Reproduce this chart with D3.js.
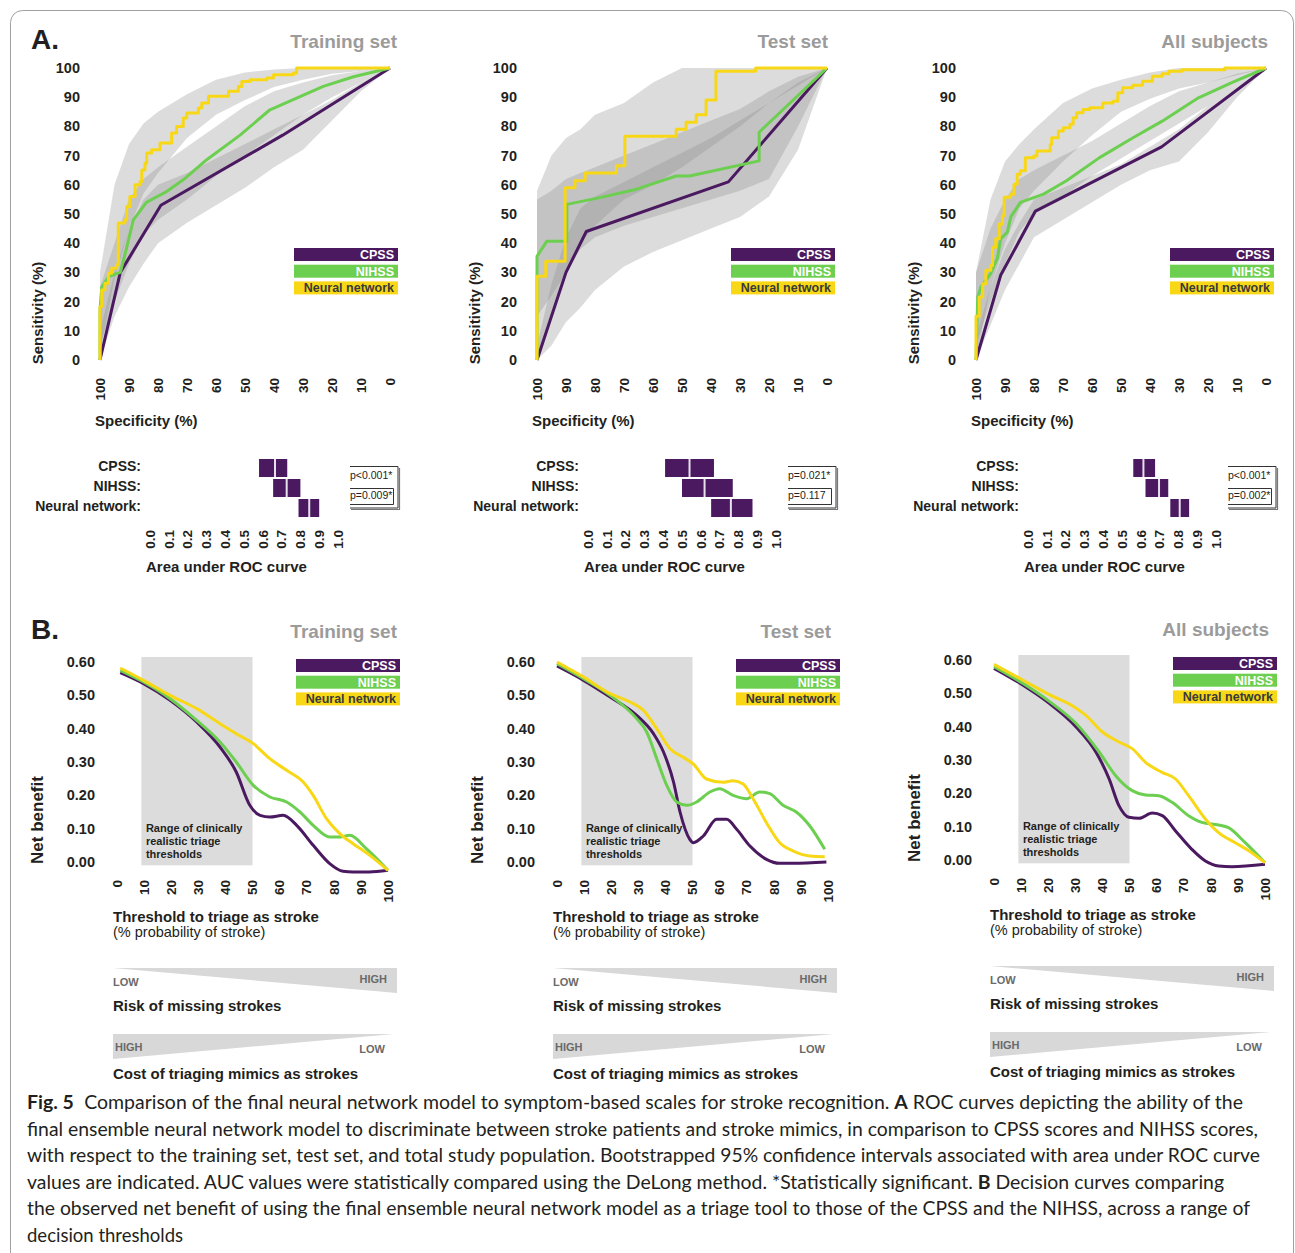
<!DOCTYPE html>
<html>
<head>
<meta charset="utf-8">
<script src="https://cdn.jsdelivr.net/npm/d3@7"></script>
<style>
  body { margin: 0; background: #fff; }
  svg text { font-family: "Liberation Sans", Arial, sans-serif; }
</style>
</head>
<body>
<svg id="fig" width="1295" height="1253"></svg>
<script>
// ---- data ----
var modelNames = ["CPSS", "NIHSS", "Neural network"];
var modelColors = ["#4a1960", "#6ccf50", "#f8d816"];
var legendText = ["#ffffff", "#ffffff", "#3a3a3a"];
var panelTitles = ["Training set", "Test set", "All subjects"];

var specTicks = [100, 90, 80, 70, 60, 50, 40, 30, 20, 10, 0];
var sensTicks = [0, 10, 20, 30, 40, 50, 60, 70, 80, 90, 100];
var aucTicks = [0.0, 0.1, 0.2, 0.3, 0.4, 0.5, 0.6, 0.7, 0.8, 0.9, 1.0];
var thresholdTicks = [0, 10, 20, 30, 40, 50, 60, 70, 80, 90, 100];
var benefitTicks = [0, 0.1, 0.2, 0.3, 0.4, 0.5, 0.6];

// ROC curves: [specificity, sensitivity]
var trainCpss = [[100, 0], [93, 30], [79, 53], [37, 77], [0, 100]];
var trainNihss = [[100, 0], [100, 17], [99.4, 25], [97, 28.6], [93, 30], [91, 37.7], [88.5, 48], [84, 54], [77, 57.7], [71.3, 61.7], [63.2, 68.6], [51.7, 77], [41.4, 85.7], [32.2, 89.7], [23, 93.7], [12.6, 97], [0, 100]];
var trainNn = [[100, 0], [100, 18.3], [99.4, 24], [98.3, 26.3], [97.1, 29.7], [96, 31.4], [94.3, 32.6], [93.7, 46.9], [91.4, 48], [90.8, 52.6], [89.7, 56], [87.9, 60], [86.2, 61.1], [85.6, 65.1], [84.5, 67.4], [83.9, 70.9], [82.2, 72], [79.3, 74.3], [75.3, 77.7], [73.6, 80], [71.3, 82.9], [70.1, 84.6], [66.1, 86.3], [64.9, 88], [62.6, 90.3], [55.7, 92], [52.3, 93.7], [51.1, 95.4], [48.3, 96], [42.5, 96.6], [40.2, 97.7], [33.3, 98.3], [32.2, 100], [0, 100]];

var testCpss = [[100, 0], [90, 30], [83, 44], [34, 61], [0, 100]];
var testNihss = [[100, 0], [100, 35.5], [96.6, 40.7], [89.7, 40.7], [89.7, 53.3], [78.3, 55.6], [65.7, 58.5], [52, 63], [47.4, 63], [23.4, 68.2], [23.4, 78], [0, 100]];
var testNn = [[100, 0], [100, 28.7], [97, 33.8], [90.3, 59], [86.9, 61.4], [83.4, 64], [72.6, 66.5], [69.7, 76.6], [52, 79], [48.6, 81.4], [45.1, 84], [41.7, 89], [38.3, 98.9], [24.6, 100], [0, 100]];

var allCpss = [[100, 0], [91.5, 29], [79.5, 51], [36, 73], [0, 100]];
var allNihss = [[100, 0], [99.4, 21.6], [98.3, 25], [95, 29.5], [92.6, 35], [91.5, 41.5], [89.2, 43.8], [88, 49], [84.7, 54], [76.7, 56.8], [68.8, 61.4], [57.4, 69.3], [46, 76], [35.8, 81.8], [23.3, 89.8], [12, 94.9], [0, 100]];
var allNn = [[100, 0], [100, 15], [98.9, 21.6], [97.7, 26.1], [96.6, 30.7], [94.9, 32.4], [94.3, 38.6], [93.2, 41.5], [92, 46.6], [90.9, 49.4], [90.3, 55.7], [88.1, 56.8], [86.9, 60.2], [85.8, 63.6], [84.7, 64.8], [83, 69.3], [80.1, 69.9], [79, 71.6], [74.4, 73.9], [73.9, 76.1], [71.6, 78.4], [69.9, 79.5], [67.6, 80.7], [66.5, 83], [65.3, 84.7], [63.1, 85.8], [60.8, 86.4], [56.3, 88], [52.8, 88.6], [51.1, 91.5], [49.4, 93.2], [46, 94.1], [42.6, 95.5], [39.2, 97.2], [35.8, 98], [33.5, 98.9], [29, 99.4], [14.2, 100], [0, 100]];

// bootstrap bands, sensitivity at these specificities
var bandSpec = [100, 95, 90, 85, 80, 70, 60, 50, 40, 30, 20, 10, 0];
var trainCpssLo = [0, 15, 25, 33, 40, 47, 53, 59, 66, 72, 82, 92, 100];
var trainCpssHi = [10, 30, 45, 55, 60, 64, 69, 74, 79, 84, 89, 95, 100];
var trainNihssLo = [5, 20, 33, 43, 48, 55, 63, 70, 77, 84, 90, 95, 100];
var trainNihssHi = [25, 40, 55, 62, 66, 73, 80, 87, 92, 95, 97.5, 99, 100];
var trainNnLo = [2, 28, 45, 57, 64, 76, 84, 89, 93.5, 96, 98, 99, 100];
var trainNnHi = [30, 60, 74, 81, 85, 91, 96, 98.5, 99.5, 100, 100, 100, 100];

var testCpssLo = [0, 5, 13, 18, 24, 32, 37, 41, 45, 49, 56, 72, 100];
var testCpssHi = [5, 26, 42, 52, 56, 61, 66, 71, 76, 82, 88, 95, 100];
var testNihssLo = [15, 22, 30, 38, 42, 46, 49, 52, 55, 58, 62, 80, 100];
var testNihssHi = [55, 58, 62, 64, 66, 70, 74, 78, 82, 86, 92, 97, 100];
var testNnLo = [0, 16, 30, 40, 46, 55, 60, 66, 73, 80, 88, 94, 100];
var testNnHi = [58, 70, 76, 79, 84, 88, 95, 100, 100, 100, 100, 100, 100];

var allCpssLo = [0, 12, 24, 33, 42, 48, 54, 60, 65, 68, 78, 90, 100];
var allCpssHi = [8, 25, 38, 47, 55, 59, 63, 67, 73, 79, 87, 94, 100];
var allNihssLo = [5, 20, 33, 44, 50, 56, 63, 69, 75, 81, 87, 94, 100];
var allNihssHi = [30, 45, 55, 62, 65, 70, 75, 81, 87, 92, 95, 98, 100];
var allNnLo = [0, 25, 40, 52, 58, 68, 77, 85, 89.5, 93, 95, 97.5, 100];
var allNnHi = [30, 55, 68, 74, 79, 88, 93, 96, 98.5, 100, 100, 100, 100];

// AUC: [low, estimate, high]
var trainAuc = [[0.58, 0.665, 0.73], [0.655, 0.727, 0.80], [0.79, 0.847, 0.90]];
var testAuc = [[0.41, 0.54, 0.67], [0.50, 0.62, 0.77], [0.655, 0.76, 0.875]];
var allAuc = [[0.56, 0.614, 0.676], [0.625, 0.697, 0.746], [0.757, 0.807, 0.857]];
var trainP = ["p<0.001*", "p=0.009*"];
var testP = ["p=0.021*", "p=0.117"];
var allP = ["p<0.001*", "p=0.002*"];

// decision curves: [threshold %, net benefit]
var trainDcaCpss = [[1.2, 0.568], [9.8, 0.535], [19.6, 0.485], [29.4, 0.42], [38, 0.345], [44, 0.27], [49, 0.17], [52.8, 0.14], [56.4, 0.135], [61.3, 0.14], [66.3, 0.11], [72.4, 0.05], [78.5, -0.005], [83.4, -0.028], [87.1, -0.03], [93, -0.03], [100, -0.025]];
var trainDcaNihss = [[1.2, 0.575], [9.8, 0.54], [19.6, 0.49], [29.4, 0.425], [38, 0.36], [44, 0.3], [50.3, 0.23], [56.4, 0.195], [62.6, 0.18], [67.5, 0.15], [72.4, 0.11], [78.5, 0.075], [82.2, 0.075], [85.9, 0.08], [92, 0.04], [100, -0.025]];
var trainDcaNn = [[1.2, 0.582], [9.8, 0.545], [19.6, 0.5], [29.4, 0.46], [38, 0.415], [44, 0.385], [50.3, 0.355], [56.4, 0.31], [62.6, 0.275], [68.7, 0.24], [72.4, 0.2], [77.3, 0.13], [82.2, 0.085], [87.1, 0.055], [93.3, 0.02], [100, -0.025]];

var testDcaCpss = [[0, 0.588], [9.8, 0.545], [19.6, 0.495], [29.4, 0.44], [35.6, 0.385], [39.3, 0.33], [43, 0.24], [45.4, 0.15], [49, 0.068], [50.3, 0.058], [54, 0.078], [58.9, 0.128], [62.6, 0.128], [66.3, 0.098], [71.2, 0.048], [77.3, 0.008], [82.2, -0.004], [87, -0.004], [99.4, 0]];
var testDcaNihss = [[0, 0.595], [9.8, 0.55], [19.6, 0.5], [29.4, 0.43], [33.1, 0.39], [36.8, 0.31], [40.5, 0.23], [44.2, 0.18], [47.9, 0.17], [51.5, 0.18], [56.4, 0.21], [60, 0.22], [65, 0.2], [70, 0.19], [74.8, 0.21], [78.5, 0.205], [83.4, 0.17], [88.3, 0.15], [93.3, 0.108], [98.8, 0.038]];
var testDcaNn = [[0, 0.6], [9.8, 0.555], [19.6, 0.505], [27, 0.48], [31.9, 0.455], [36.8, 0.4], [41.7, 0.34], [46.6, 0.314], [50.3, 0.294], [55.2, 0.249], [61.3, 0.239], [65, 0.244], [68.7, 0.234], [72.4, 0.189], [77.3, 0.118], [82.2, 0.058], [87.1, 0.033], [93.3, 0.018], [98.8, 0.016]];

var allDcaCpss = [[0, 0.575], [10.6, 0.525], [20.4, 0.47], [30.2, 0.4], [37.6, 0.324], [42.5, 0.243], [46.1, 0.163], [49.8, 0.128], [53.5, 0.125], [58.4, 0.141], [62.1, 0.133], [67, 0.087], [73, 0.032], [78, -0.003], [82.9, -0.018], [87.8, -0.02], [100, -0.013]];
var allDcaNihss = [[0, 0.58], [10.6, 0.53], [20.4, 0.476], [30.2, 0.41], [38.8, 0.324], [44.9, 0.253], [51, 0.208], [55.9, 0.195], [60.8, 0.193], [65.7, 0.173], [71.8, 0.133], [76.7, 0.113], [82.9, 0.105], [86.5, 0.097], [92.7, 0.052], [100, -0.008]];
var allDcaNn = [[0, 0.587], [10.6, 0.54], [20.4, 0.496], [29, 0.462], [33.9, 0.434], [40, 0.384], [46.1, 0.354], [51, 0.334], [55.9, 0.293], [62, 0.263], [67, 0.243], [71.8, 0.193], [78, 0.123], [82.9, 0.082], [89, 0.052], [95.1, 0.022], [100, -0.008]];

var realisticRange = [9, 50];

var captionLines = [
  [["Fig. 5", true], [" Comparison of the final neural network model to symptom-based scales for stroke recognition. ", false], ["A", true], [" ROC curves depicting the ability of the", false]],
  [["final ensemble neural network model to discriminate between stroke patients and stroke mimics, in comparison to CPSS scores and NIHSS scores,", false]],
  [["with respect to the training set, test set, and total study population. Bootstrapped 95% confidence intervals associated with area under ROC curve", false]],
  [["values are indicated. AUC values were statistically compared using the DeLong method. *Statistically significant. ", false], ["B", true], [" Decision curves comparing", false]],
  [["the observed net benefit of using the final ensemble neural network model as a triage tool to those of the CPSS and the NIHSS, across a range of", false]],
  [["decision thresholds", false]]
];

// tables built from the arrays above
var rocPanels = [
  {curves: [trainCpss, trainNihss, trainNn], bands: [[trainCpssLo, trainCpssHi], [trainNihssLo, trainNihssHi], [trainNnLo, trainNnHi]], auc: trainAuc, p: trainP},
  {curves: [testCpss, testNihss, testNn], bands: [[testCpssLo, testCpssHi], [testNihssLo, testNihssHi], [testNnLo, testNnHi]], auc: testAuc, p: testP},
  {curves: [allCpss, allNihss, allNn], bands: [[allCpssLo, allCpssHi], [allNihssLo, allNihssHi], [allNnLo, allNnHi]], auc: allAuc, p: allP}
];
var dcaPanels = [
  [trainDcaCpss, trainDcaNihss, trainDcaNn],
  [testDcaCpss, testDcaNihss, testDcaNn],
  [allDcaCpss, allDcaNihss, allDcaNn]
];

var svg = d3.select("#fig");

// rounded frame of the figure
svg.append("rect")
  .attr("x", 10.5).attr("y", 10.5)
  .attr("width", 1283).attr("height", 1300)
  .attr("rx", 12)
  .attr("fill", "none")
  .attr("stroke", "#a0a0a0");

svg.append("text").attr("x", 31).attr("y", 49)
  .attr("font-size", 28).attr("font-weight", "bold").attr("fill", "#231f20").text("A.");
svg.append("text").attr("x", 31).attr("y", 639)
  .attr("font-size", 28).attr("font-weight", "bold").attr("fill", "#231f20").text("B.");

var rocX = [0, 437, 876];
var aucX = [0, 438, 878];
var dcaX = [0, 440, 877];
var dcaY = [0, 0, -2];
var titleShift = [1, -5, -4];

rocPanels.forEach(function (d, i) {
  drawRoc(svg.append("g").attr("transform", "translate(" + rocX[i] + ",0)"), d, i);
  drawAuc(svg.append("g").attr("transform", "translate(" + aucX[i] + ",0)"), d);
});
dcaPanels.forEach(function (d, i) {
  var g = svg.append("g").attr("transform", "translate(" + dcaX[i] + "," + dcaY[i] + ")");
  drawDecision(g, d, i);
  drawRisk(g);
});
drawCaption();

function addLegend(g, left, top) {
  var items = g.append("g").selectAll("g")
    .data(modelNames)
    .enter()
    .append("g")
    .attr("transform", function (d, k) { return "translate(" + left + "," + (top + k * 16.7) + ")"; });
  items.append("rect")
    .attr("width", 104).attr("height", 13)
    .attr("fill", function (d, k) { return modelColors[k]; });
  items.append("text")
    .attr("x", 100).attr("y", 11)
    .attr("text-anchor", "end")
    .attr("font-size", 12.5).attr("font-weight", "bold")
    .attr("fill", function (d, k) { return legendText[k]; })
    .text(function (d) { return d; });
}

function panelTitle(g, i, y) {
  g.append("text").attr("x", 396 + titleShift[i]).attr("y", y)
    .attr("text-anchor", "end")
    .attr("font-size", 19).attr("font-weight", "bold")
    .attr("fill", "#9b9b9b")
    .text(panelTitles[i]);
}

function drawRoc(g, d, i) {
  var x = d3.scaleLinear().domain([100, 0]).range([100, 390]);
  var y = d3.scaleLinear().domain([0, 100]).range([360, 68]);

  panelTitle(g, i, 48);

  //confidence bands, overlap makes them darker
  var area = d3.area()
    .x(function (p) { return x(p[0]); })
    .y0(function (p) { return y(p[1]); })
    .y1(function (p) { return y(p[2]); });
  d.bands.forEach(function (b) {
    var pts = bandSpec.map(function (s, k) { return [s, b[0][k], b[1][k]]; });
    g.append("path").attr("d", area(pts))
      .attr("fill", "#8a8a8a").attr("fill-opacity", 0.3);
  });

  var line = d3.line()
    .x(function (p) { return x(p[0]); })
    .y(function (p) { return y(p[1]); });
  d.curves.forEach(function (c, k) {
    line.curve(k == 2 ? d3.curveStepAfter : d3.curveLinear);
    g.append("path").attr("d", line(c))
      .attr("fill", "none")
      .attr("stroke", modelColors[k])
      .attr("stroke-width", 3)
      .attr("stroke-linejoin", "round");
  });

  g.append("g").selectAll("text").data(sensTicks).enter().append("text")
    .attr("x", 80).attr("y", function (v) { return y(v) + 5; })
    .attr("text-anchor", "end")
    .attr("font-size", 14.5).attr("font-weight", "bold").attr("fill", "#231f20")
    .text(function (v) { return v; });

  g.append("g").selectAll("text").data(specTicks).enter().append("text")
    .attr("transform", function (v) { return "translate(" + (x(v) + 4.7) + ",378) rotate(-90)"; })
    .attr("text-anchor", "end")
    .attr("font-size", 13.5).attr("font-weight", "bold").attr("fill", "#231f20")
    .text(function (v) { return v; });

  g.append("text").attr("x", 95).attr("y", 426)
    .attr("font-size", 15).attr("font-weight", "bold").attr("fill", "#231f20")
    .text("Specificity (%)");
  g.append("text").attr("transform", "translate(43,313) rotate(-90)")
    .attr("text-anchor", "middle")
    .attr("font-size", 15).attr("font-weight", "bold").attr("fill", "#231f20")
    .text("Sensitivity (%)");

  addLegend(g, 294, 248);
}

function drawAuc(g, d) {
  var x = d3.scaleLinear().domain([0, 1]).range([150, 338]);
  var rowTop = function (k) { return 459 + k * 20; };

  g.append("g").selectAll("text").data(modelNames).enter().append("text")
    .attr("x", 141).attr("y", function (n, k) { return rowTop(k) + 12; })
    .attr("text-anchor", "end")
    .attr("font-size", 14).attr("font-weight", "bold").attr("fill", "#231f20")
    .text(function (n) { return n + ":"; });

  var bars = g.append("g").selectAll("g").data(d.auc).enter().append("g");
  bars.append("rect")
    .attr("x", function (a) { return x(a[0]); })
    .attr("y", function (a, k) { return rowTop(k); })
    .attr("width", function (a) { return x(a[2]) - x(a[0]); })
    .attr("height", 18)
    .attr("fill", modelColors[0]);
  bars.append("line")
    .attr("x1", function (a) { return x(a[1]); })
    .attr("x2", function (a) { return x(a[1]); })
    .attr("y1", function (a, k) { return rowTop(k); })
    .attr("y2", function (a, k) { return rowTop(k) + 18; })
    .attr("stroke", "#e8e0ec").attr("stroke-width", 2);

  g.append("g").selectAll("text").data(aucTicks).enter().append("text")
    .attr("transform", function (v) { return "translate(" + (x(v) + 4.7) + ",530) rotate(-90)"; })
    .attr("text-anchor", "end")
    .attr("font-size", 13.5).attr("font-weight", "bold").attr("fill", "#231f20")
    .text(function (v) { return v.toFixed(1); });

  g.append("text").attr("x", 146).attr("y", 572)
    .attr("font-size", 15).attr("font-weight", "bold").attr("fill", "#231f20")
    .text("Area under ROC curve");

  // p-value brackets
  var pb = g.append("g").attr("fill", "none").attr("stroke", "#333");
  pb.append("path").attr("d", "M350,466.5H398V508H350").attr("stroke-width", 1);
  pb.append("path").attr("d", "M399.5,468V509.5H351").attr("stroke-width", 1.2).attr("stroke", "#777");
  pb.append("path").attr("d", "M350,488.5H393.5V504.5H350").attr("stroke-width", 1);
  g.append("text").attr("x", 350).attr("y", 478.5)
    .attr("font-size", 10.5).attr("fill", "#231f20").text(d.p[0]);
  g.append("text").attr("x", 350).attr("y", 498.5)
    .attr("font-size", 10.5).attr("fill", "#231f20").text(d.p[1]);
}

function drawDecision(g, curves, i) {
  var x = d3.scaleLinear().domain([0, 100]).range([117, 388]);
  var y = d3.scaleLinear().domain([0, 0.6]).range([862, 662]);

  panelTitle(g, i, 638);

  g.append("rect")
    .attr("x", x(realisticRange[0])).attr("width", x(realisticRange[1]) - x(realisticRange[0]))
    .attr("y", y(0.615)).attr("height", y(-0.01) - y(0.615))
    .attr("fill", "#dcdcdc");
  var note = ["Range of clinically", "realistic triage", "thresholds"];
  g.append("g").selectAll("text").data(note).enter().append("text")
    .attr("x", x(realisticRange[0]) + 4.5)
    .attr("y", function (t, k) { return 832 + k * 13; })
    .attr("font-size", 11).attr("font-weight", "bold").attr("fill", "#231f20")
    .text(function (t) { return t; });

  var line = d3.line()
    .x(function (p) { return x(p[0]); })
    .y(function (p) { return y(p[1]); })
    .curve(d3.curveMonotoneX);
  curves.forEach(function (c, k) {
    g.append("path").attr("d", line(c))
      .attr("fill", "none")
      .attr("stroke", modelColors[k])
      .attr("stroke-width", 3);
  });

  g.append("g").selectAll("text").data(benefitTicks).enter().append("text")
    .attr("x", 95).attr("y", function (v) { return y(v) + 5; })
    .attr("text-anchor", "end")
    .attr("font-size", 14.5).attr("font-weight", "bold").attr("fill", "#231f20")
    .text(function (v) { return v.toFixed(2); });

  g.append("g").selectAll("text").data(thresholdTicks).enter().append("text")
    .attr("transform", function (v) { return "translate(" + (x(v) + 4.7) + ",880) rotate(-90)"; })
    .attr("text-anchor", "end")
    .attr("font-size", 13.5).attr("font-weight", "bold").attr("fill", "#231f20")
    .text(function (v) { return v; });

  g.append("text").attr("transform", "translate(43,820) rotate(-90)")
    .attr("text-anchor", "middle")
    .attr("font-size", 17).attr("font-weight", "bold").attr("fill", "#231f20")
    .text("Net benefit");
  g.append("text").attr("x", 113).attr("y", 922)
    .attr("font-size", 15).attr("font-weight", "bold").attr("fill", "#231f20")
    .text("Threshold to triage as stroke");
  g.append("text").attr("x", 113).attr("y", 937)
    .attr("font-size", 14.5).attr("fill", "#231f20")
    .text("(% probability of stroke)");

  addLegend(g, 296, 659);
}

function drawRisk(g) {
  g.append("path").attr("d", "M113,968L397,968L397,993Z").attr("fill", "#d8d8d8");
  g.append("path").attr("d", "M113,1034L113,1059L394,1034Z").attr("fill", "#d8d8d8");
  var small = [["LOW", 113, 986, "start"], ["HIGH", 387, 983, "end"], ["HIGH", 115, 1051, "start"], ["LOW", 385, 1053, "end"]];
  g.append("g").selectAll("text").data(small).enter().append("text")
    .attr("x", function (s) { return s[1]; })
    .attr("y", function (s) { return s[2]; })
    .attr("text-anchor", function (s) { return s[3]; })
    .attr("font-size", 11).attr("font-weight", "bold").attr("fill", "#6a6a6a")
    .text(function (s) { return s[0]; });
  g.append("text").attr("x", 113).attr("y", 1011)
    .attr("font-size", 15).attr("font-weight", "bold").attr("fill", "#231f20")
    .text("Risk of missing strokes");
  g.append("text").attr("x", 113).attr("y", 1079)
    .attr("font-size", 15).attr("font-weight", "bold").attr("fill", "#231f20")
    .text("Cost of triaging mimics as strokes");
}

function drawCaption() {
  var lineEnds = [1243, 1258, 1260, 1224, 1250];
  captionLines.forEach(function (parts, k) {
    var t = svg.append("text")
      .attr("x", 27).attr("y", 1109 + k * 26.6)
      .attr("font-size", 18.5)
      .attr("fill", "#231f20")
      .style("font-family", "Lato, 'Open Sans', sans-serif");
    if (k < lineEnds.length) {
      t.attr("textLength", lineEnds[k] - 27).attr("lengthAdjust", "spacingAndGlyphs");
    }
    parts.forEach(function (p, j) {
      var ts = t.append("tspan").attr("font-weight", p[1] ? "bold" : "normal").text(p[0]);
      if (k == 0 && j == 1) ts.attr("dx", 5);
    });
  });
}
</script>
</body>
</html>
